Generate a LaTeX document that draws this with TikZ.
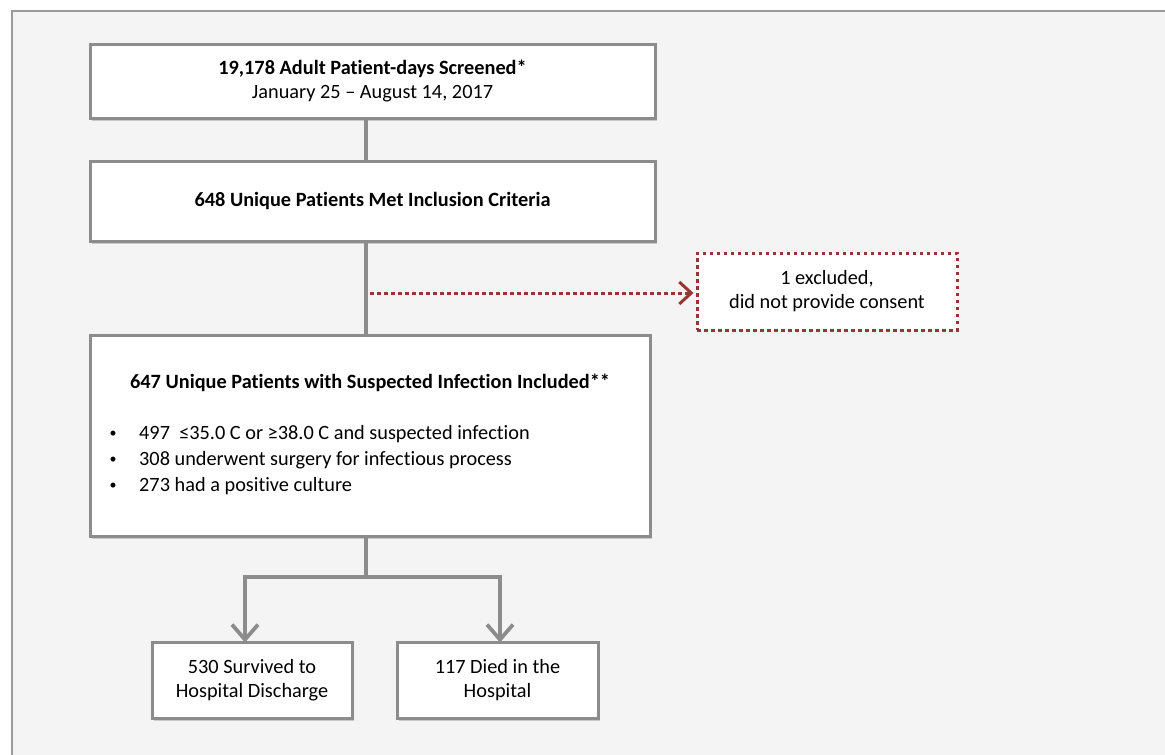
\documentclass[tikz,border=0pt]{standalone}
\usepackage{fontspec}
\setmainfont{Carlito}[Ligatures={NoCommon}]
\usetikzlibrary{arrows.meta,shadows}
\definecolor{boxgray}{HTML}{8C8C8C}
\definecolor{framegray}{HTML}{9A9A9A}
\definecolor{bgfill}{HTML}{F4F4F4}
\definecolor{exred}{HTML}{963634}
\begin{document}
\begin{tikzpicture}[x=1pt,y=-1pt,
  flowbox/.style={draw=boxgray,line width=3pt,fill=white,rectangle,inner sep=0pt,align=center,
    drop shadow={shadow xshift=2pt,shadow yshift=-3pt,opacity=0.3,fill=black!60},
    font=\fontsize{20.3}{24}\selectfont},
  exbox/.style={draw=exred,line width=3pt,fill=white,rectangle,inner sep=0pt,align=center,
    dash pattern=on 3.5pt off 3.5pt,font=\fontsize{20.3}{24}\selectfont},
  txt/.style={inner sep=0pt,font=\fontsize{20.3}{24}\selectfont},
  conn/.style={draw=boxgray,line width=3.8pt},
  arr/.style={conn,-{Straight Barb[length=15pt,width=26pt,line width=3.8pt]}},
  exarr/.style={draw=exred,line width=3pt,dash pattern=on 3.5pt off 3.5pt,
    -{Straight Barb[length=12pt,width=22pt,line width=3pt,sep=2pt]}}
]
\useasboundingbox (0,0) rectangle (1165,755);
\fill[white] (0,0) rectangle (1165,755);
\draw[draw=framegray,fill=bgfill,line width=2pt] (12,11) rectangle (1180,770);

\node[flowbox,minimum width=565pt,minimum height=74pt] (b1) at (372.5,81)
  {\textbf{19,178 Adult Patient-days Screened*}\\January 25 -- August 14, 2017};
\node[flowbox,minimum width=565pt,minimum height=80pt] (b2) at (372.5,201)
  {\textbf{648 Unique Patients Met Inclusion Criteria}};
\node[exbox,minimum width=260pt,minimum height=77pt] (ex) at (827,291.5)
  {1 excluded,\\did not provide consent};
\node[flowbox,minimum width=560pt,minimum height=201pt] (b3) at (370,435.5) {};
\node[flowbox,minimum width=200pt,minimum height=76pt] (b4) at (252,680)
  {530 Survived to\\Hospital Discharge};
\node[flowbox,minimum width=201pt,minimum height=76pt] (b5) at (497.5,680)
  {117 Died in the\\Hospital};

\node[txt] (t3) at (370,383) {\textbf{647 Unique Patients with Suspected Infection Included**}};
\node[txt,anchor=west] (l1) at (139,434) {497\ \ ≤35.0 C or ≥38.0 C and suspected infection};
\node[txt,anchor=west] (l2) at (139,460) {308 underwent surgery for infectious process};
\node[txt,anchor=west] (l3) at (139,486) {273 had a positive culture};
\node[txt,font=\fontsize{14}{14}\selectfont] (d1) at (113,434) {•};
\node[txt,font=\fontsize{14}{14}\selectfont] (d2) at (113,460) {•};
\node[txt,font=\fontsize{14}{14}\selectfont] (d3) at (113,486) {•};

\coordinate (jx) at (366,0);
\coordinate (exstart) at (370,293);
\coordinate (split) at (366,577);
\coordinate (lx) at (245,0);
\coordinate (rx) at (500,0);

\draw[conn] (b1.south -| jx) -- (b2.north -| jx);
\draw[conn] (b2.south -| jx) -- (b3.north -| jx);
\draw[exarr] (exstart) -- (ex.west |- exstart);
\draw[conn] (b3.south -| jx) -- (split);
\draw[arr,line join=miter] (split) -| ([yshift=-2pt]b4.north -| lx);
\draw[arr,line join=miter] (split) -| ([yshift=-2pt]b5.north -| rx);
\end{tikzpicture}
\end{document}
